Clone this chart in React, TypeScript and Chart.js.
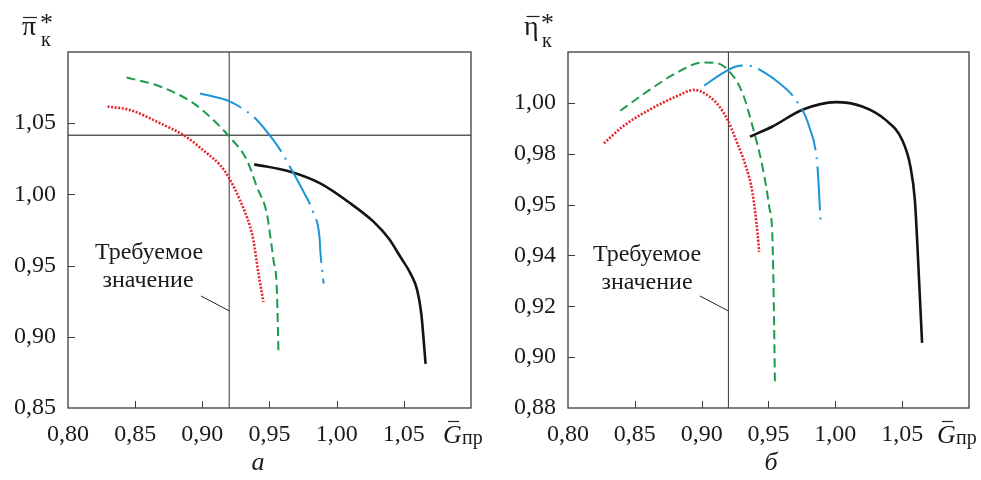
import React, { useEffect, useRef } from "react";
import { Chart, registerables } from "chart.js";

Chart.register(...registerables);

// ---------- axes ----------
const xTickValues = [0.8, 0.85, 0.9, 0.95, 1.0, 1.05, 1.1];
const xTickLabels = ["0,80", "0,85", "0,90", "0,95", "1,00", "1,05", ""];

const piTickValues = [0.85, 0.9, 0.95, 1.0, 1.05, 1.1];
const piTickLabels = ["0,85", "0,90", "0,95", "1,00", "1,05", ""];

const etaTickValues = [0.88, 0.9, 0.92, 0.94, 0.96, 0.98, 1.0, 1.02];
const etaTickLabels = ["0,88", "0,90", "0,92", "0,94", "0,95", "0,98", "1,00", ""];

// required values (reference lines)
const requiredG = 0.92;
const requiredPi = 1.0415;

// ---------- panel а : π*к ----------
const piRed: [number, number][] = [
  [0.8294, 1.0617], [0.846, 1.0593], [0.8685, 1.05], [0.887, 1.041], [0.9033, 1.0289],
  [0.9132, 1.0206], [0.92, 1.0113], [0.928, 0.996], [0.9356, 0.9772], [0.938, 0.9678],
  [0.9418, 0.9444], [0.9455, 0.9244],
];
const piGreen: [number, number][] = [
  [0.8436, 1.0821], [0.8686, 1.0758], [0.8933, 1.0641], [0.9082, 1.0523], [0.92, 1.0406],
  [0.9331, 1.0242], [0.9406, 1.0053], [0.948, 0.9866], [0.951, 0.9678], [0.953, 0.9537],
  [0.9555, 0.9326], [0.9567, 0.888],
];
const piBlue: [number, number][] = [
  [0.8983, 1.0709], [0.9207, 1.0652], [0.9331, 1.0582], [0.9406, 1.0523], [0.948, 1.0441],
  [0.958, 1.0312], [0.9679, 1.0148], [0.9754, 1.0018], [0.9828, 0.9866], [0.9873, 0.969],
  [0.9878, 0.9608], [0.9903, 0.9373],
];
const piBlack: [number, number][] = [
  [0.9386, 1.0211], [0.9656, 1.0159], [0.9878, 1.0077], [1.0102, 0.9937], [1.0276, 0.9807],
  [1.0388, 0.969], [1.0475, 0.956], [1.055, 0.9444], [1.06, 0.9326], [1.063, 0.9162],
  [1.0662, 0.881],
];

// ---------- panel б : η*к ----------
const etaRed: [number, number][] = [
  [0.8269, 0.9841], [0.841, 0.9907], [0.861, 0.9973], [0.8809, 1.0025], [0.8946, 1.0051],
  [0.9057, 1.0025], [0.9132, 0.9986], [0.9194, 0.9933], [0.9257, 0.9854], [0.9331, 0.9749],
  [0.9381, 0.9644], [0.9418, 0.9487], [0.943, 0.9414],
];
const etaGreen: [number, number][] = [
  [0.8391, 0.9969], [0.861, 1.0051], [0.8809, 1.0117], [0.9007, 1.0159], [0.9107, 1.0157],
  [0.9207, 1.0124], [0.9306, 1.0038], [0.9381, 0.9907], [0.9455, 0.9749], [0.9505, 0.9592],
  [0.953, 0.946], [0.9542, 0.9132], [0.9548, 0.8902],
];
const etaBlue: [number, number][] = [
  [0.902, 1.0068], [0.9157, 1.0117], [0.9257, 1.0143], [0.9343, 1.0147], [0.9455, 1.0124],
  [0.958, 1.0078], [0.9704, 1.0012], [0.9804, 0.9907], [0.9866, 0.9749], [0.9891, 0.9519],
];
const etaBlack: [number, number][] = [
  [0.9361, 0.9867], [0.953, 0.9907], [0.9754, 0.9973], [1.0003, 1.0003], [1.0201, 0.9986],
  [1.0376, 0.9933], [1.05, 0.9854], [1.0562, 0.9749], [1.0595, 0.9618], [1.0612, 0.946],
  [1.0624, 0.9329], [1.0649, 0.9056],
];

// ---------- styling ----------
const SERIF = "'Liberation Serif'";
Chart.defaults.font.family = SERIF;
const RED = "#e8232b";
const GREEN = "#1c9c4b";
const BLUE = "#1a95d6";
const BLACK = "#141414";
const AXIS = "#3c3c3c";

type Txt = { text: string; x: number; y: number; font: string; align?: CanvasTextAlign };
type Seg = [number, number, number, number, number, string];

function makeDecor(texts: Txt[], segs: Seg[], xInner: number[], yInner: number[]) {
  return {
    id: "decor",
    afterDraw(chart: any) {
      const ctx: CanvasRenderingContext2D = chart.ctx;
      const { left, right, top, bottom } = chart.chartArea;
      const xs = chart.scales.x;
      const ys = chart.scales.y;
      ctx.save();
      ctx.setLineDash([]);
      ctx.strokeStyle = AXIS;
      ctx.lineWidth = 1.3;
      ctx.strokeRect(left, top, right - left, bottom - top);
      ctx.lineWidth = 1;
      ctx.beginPath();
      for (const v of xInner) {
        const px = Math.round(xs.getPixelForValue(v)) + 0.5;
        ctx.moveTo(px, bottom);
        ctx.lineTo(px, bottom - 7);
      }
      for (const v of yInner) {
        const py = Math.round(ys.getPixelForValue(v)) + 0.5;
        ctx.moveTo(left, py);
        ctx.lineTo(left + 7, py);
      }
      ctx.stroke();
      ctx.fillStyle = "#1a1a1a";
      ctx.textBaseline = "alphabetic";
      for (const t of texts) {
        ctx.font = t.font;
        ctx.textAlign = t.align || "left";
        ctx.fillText(t.text, t.x, t.y);
      }
      for (const s of segs) {
        ctx.beginPath();
        ctx.lineWidth = s[4];
        ctx.strokeStyle = s[5];
        ctx.moveTo(s[0], s[1]);
        ctx.lineTo(s[2], s[3]);
        ctx.stroke();
      }
      ctx.restore();
    },
  };
}

type PanelProps = {
  width: number;
  offsetX: number;
  yMin: number;
  yMax: number;
  yTickValues: number[];
  yTickLabels: string[];
  yAxisWidth: number;
  padRight: number;
  series: { data: [number, number][]; color: string; width: number; dash: number[] }[];
  hLine?: number;
  texts: Txt[];
  segs: Seg[];
};

function toPts(arr: [number, number][]) {
  return arr.map(([x, y]) => ({ x, y }));
}

function Panel(p: PanelProps) {
  const ref = useRef<HTMLCanvasElement | null>(null);
  useEffect(() => {
    if (!ref.current) return;
    const datasets: any[] = p.series.map((s) => ({
      data: toPts(s.data),
      borderColor: s.color,
      borderWidth: s.width,
      borderDash: s.dash,
      borderCapStyle: "butt",
      pointRadius: 0,
      fill: false,
      tension: 0.4,
      cubicInterpolationMode: "monotone",
    }));
    datasets.push({
      data: [
        { x: requiredG, y: p.yMin },
        { x: requiredG, y: p.yMax },
      ],
      borderColor: "#333",
      borderWidth: 1,
      pointRadius: 0,
      fill: false,
    });
    if (p.hLine !== undefined) {
      datasets.push({
        data: [
          { x: xTickValues[0], y: p.hLine },
          { x: xTickValues[xTickValues.length - 1], y: p.hLine },
        ],
        borderColor: "#5a5a5a",
        borderWidth: 1.6,
        pointRadius: 0,
        fill: false,
      });
    }
    const texts = p.texts.map((t) => ({ ...t, x: t.x - p.offsetX }));
    const segs = p.segs.map(
      (s) => [s[0] - p.offsetX, s[1], s[2] - p.offsetX, s[3], s[4], s[5]] as Seg
    );
    const decor = makeDecor(texts, segs, xTickValues.slice(1, -1), p.yTickValues.slice(1, -1));
    const chart = new Chart(ref.current, {
      type: "line",
      data: { datasets },
      plugins: [decor as any],
      options: {
        animation: false,
        responsive: false,
        devicePixelRatio: 1,
        layout: { padding: { top: 52, right: p.padRight, left: 0, bottom: 0 } },
        plugins: {
          legend: { display: false },
          tooltip: { enabled: false },
        },
        scales: {
          x: {
            type: "linear",
            min: xTickValues[0],
            max: xTickValues[xTickValues.length - 1],
            afterBuildTicks: (s: any) => {
              s.ticks = xTickValues.map((v) => ({ value: v }));
            },
            afterFit: (s: any) => {
              s.height = 72;
            },
            ticks: {
              autoSkip: false,
              maxRotation: 0,
              padding: 12,
              color: "#1a1a1a",
              font: { family: SERIF, size: 24 },
              callback: (_v: any, i: number) => xTickLabels[i],
            },
            grid: { display: false, drawTicks: false },
            border: { display: false },
          },
          y: {
            type: "linear",
            min: p.yMin,
            max: p.yMax,
            afterBuildTicks: (s: any) => {
              s.ticks = p.yTickValues.map((v) => ({ value: v }));
            },
            afterFit: (s: any) => {
              s.width = p.yAxisWidth;
            },
            ticks: {
              autoSkip: false,
              padding: 12,
              color: "#1a1a1a",
              font: { family: SERIF, size: 24 },
              callback: (_v: any, i: number) => p.yTickLabels[i],
            },
            grid: { display: false, drawTicks: false },
            border: { display: false },
          },
        },
      } as any,
    });
    return () => {
      chart.destroy();
    };
  }, []);
  return (
    <canvas
      ref={ref}
      width={p.width}
      height={480}
      style={{ position: "absolute", left: p.offsetX, top: 0, width: p.width, height: 480 }}
    />
  );
}

const redStyle = { color: RED, width: 2.6, dash: [2, 1.6] };
const greenStyle = { color: GREEN, width: 2, dash: [9, 5] };
const blueStyle = { color: BLUE, width: 2, dash: [44, 7, 2, 7] };
const blackStyle = { color: BLACK, width: 2.6, dash: [] as number[] };

const F_MAIN = `24px ${SERIF}`;
const F_SYM = `28px ${SERIF}`;
const F_STAR = `26px ${SERIF}`;
const F_SUB = `20px ${SERIF}`;
const F_IT = `italic 26px ${SERIF}`;

export default function App() {
  return (
    <div style={{ position: "absolute", left: 0, top: 0, width: 981, height: 480, background: "#fff" }}>
      <Panel
        width={490}
        offsetX={0}
        yMin={piTickValues[0]}
        yMax={piTickValues[piTickValues.length - 1]}
        yTickValues={piTickValues}
        yTickLabels={piTickLabels}
        yAxisWidth={68}
        padRight={19}
        hLine={requiredPi}
        series={[
          { data: piRed, ...redStyle },
          { data: piGreen, ...greenStyle },
          { data: piBlue, ...blueStyle },
          { data: piBlack, ...blackStyle },
        ]}
        texts={[
          { text: "π", x: 22, y: 35, font: F_SYM },
          { text: "*", x: 40, y: 31, font: F_STAR },
          { text: "к", x: 41, y: 46, font: F_SUB },
          { text: "Требуемое", x: 149, y: 259, font: F_MAIN, align: "center" },
          { text: "значение", x: 148, y: 287, font: F_MAIN, align: "center" },
          { text: "G", x: 443, y: 443, font: F_IT },
          { text: "пр", x: 462, y: 444, font: F_SUB },
          { text: "а", x: 258, y: 470, font: F_IT, align: "center" },
        ]}
        segs={[
          [23, 17.5, 37, 17.5, 1.2, "#222"],
          [448, 421.5, 459, 421.5, 1.2, "#222"],
          [201, 296, 229.5, 311, 1, "#222"],
        ]}
      />
      <Panel
        width={491}
        offsetX={490}
        yMin={etaTickValues[0]}
        yMax={etaTickValues[etaTickValues.length - 1]}
        yTickValues={etaTickValues}
        yTickLabels={etaTickLabels}
        yAxisWidth={78}
        padRight={11}
        series={[
          { data: etaRed, ...redStyle },
          { data: etaGreen, ...greenStyle },
          { data: etaBlue, ...blueStyle },
          { data: etaBlack, ...blackStyle },
        ]}
        texts={[
          { text: "η", x: 524, y: 35, font: F_SYM },
          { text: "*", x: 541, y: 31, font: F_STAR },
          { text: "к", x: 542, y: 47, font: F_SUB },
          { text: "Требуемое", x: 647, y: 261, font: F_MAIN, align: "center" },
          { text: "значение", x: 647, y: 289, font: F_MAIN, align: "center" },
          { text: "G", x: 937, y: 443, font: F_IT },
          { text: "пр", x: 956, y: 444, font: F_SUB },
          { text: "б", x: 771, y: 470, font: F_IT, align: "center" },
        ]}
        segs={[
          [526.5, 16.5, 539.5, 16.5, 1.2, "#222"],
          [942, 421.5, 953, 421.5, 1.2, "#222"],
          [700, 296, 728.5, 311, 1, "#222"],
        ]}
      />
    </div>
  );
}
